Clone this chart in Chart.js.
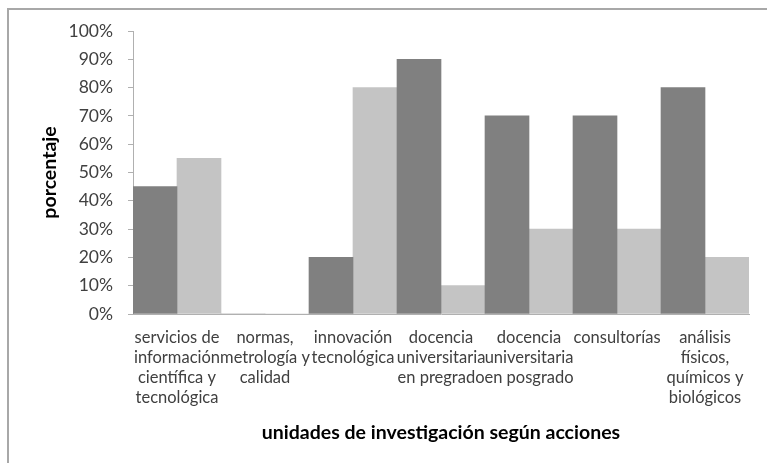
<!DOCTYPE html>
<html>
<head>
<meta charset="utf-8">
<script src="https://cdn.jsdelivr.net/npm/chart.js@4"></script>
<style>
  html, body { margin: 0; padding: 0; background: #fff; overflow: hidden; }
  #wrap { position: relative; width: 767px; height: 463px; }
  #frame { position: absolute; left: 7px; top: 8px; width: 900px; height: 600px;
           border-left: 2px solid #a8a8a8; border-top: 2px solid #a8a8a8; box-sizing: border-box; }
  canvas { position: absolute; left: 0; top: 0; }
</style>
</head>
<body>
<div id="wrap">
  <div id="frame"></div>
  <canvas id="c" width="767" height="463"></canvas>
</div>
<script>
const categories = [
  ["servicios de", "información", "científica y", "tecnológica"],
  ["normas,", "metrología y", "calidad"],
  ["innovación", "tecnológica"],
  ["docencia", "universitaria", "en pregrado"],
  ["docencia", "universitaria", "en posgrado"],
  ["consultorías"],
  ["análisis", "físicos,", "químicos y", "biológicos"]
];
const seriesDark = [45, 0, 20, 90, 70, 70, 80];
const seriesLight = [55, 0, 80, 10, 30, 30, 20];
const yTicks = [0, 10, 20, 30, 40, 50, 60, 70, 80, 90, 100];
const yTitle = "porcentaje";
const xTitle = "unidades de investigación según acciones";

const axisColor = "#b0b0b0";
new Chart(document.getElementById("c"), {
  type: "bar",
  data: {
    labels: categories,
    datasets: [
      { data: seriesDark, backgroundColor: "#808080", borderWidth: 0 },
      { data: seriesLight, backgroundColor: "#c4c4c4", borderWidth: 0 }
    ]
  },
  options: {
    responsive: false,
    animation: false,
    devicePixelRatio: 1,
    layout: { padding: { left: 30, top: 31, right: 18, bottom: 0 } },
    plugins: { legend: { display: false }, tooltip: { enabled: false } },
    datasets: { bar: { barPercentage: 1, categoryPercentage: 1 } },
    scales: {
      x: {
        z: 1,
        grid: { display: false, drawTicks: false },
        border: { display: true, color: axisColor, width: 1 },
        ticks: {
          color: "#404040", font: { family: "Lato", size: 16.5, lineHeight: 1.2 },
          maxRotation: 0, autoSkip: false, padding: 14
        },
        title: {
          display: true, text: xTitle, color: "#000",
          font: { family: "Lato", size: 19.5, weight: "bold", lineHeight: 1.2 },
          padding: { top: 0, bottom: 19 }
        },
        afterFit: (s) => { s.height = 463 - 314; }
      },
      y: {
        min: 0, max: 100,
        afterBuildTicks: (s) => { s.ticks = yTicks.map(v => ({ value: v })); },
        grid: { drawOnChartArea: false, drawTicks: true, tickLength: 5, color: axisColor },
        border: { display: true, color: axisColor, width: 1 },
        ticks: {
          color: "#404040", font: { family: "Lato", size: 17.5 },
          padding: 15, callback: (v) => v + "%"
        },
        title: {
          display: true, text: yTitle, color: "#000",
          font: { family: "Lato", size: 19.5, weight: "bold", lineHeight: 1.2 },
          padding: { top: 8, bottom: 0 }
        },
        afterFit: (s) => { s.width = 133 - 30; }
      }
    }
  }
});
</script>
</body>
</html>
